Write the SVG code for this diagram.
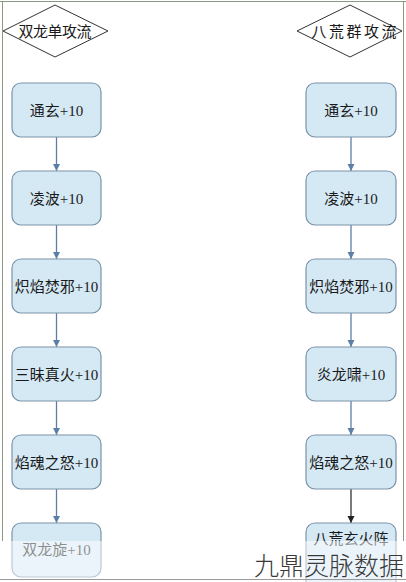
<svg xmlns="http://www.w3.org/2000/svg" width="406" height="582" viewBox="0 0 406 582">
<style>
.box{fill:#d5e9f5;stroke:#7b93a8;stroke-width:1.2}
.dia{fill:#ffffff;stroke:#333333;stroke-width:1}
.t{font-family:"Liberation Serif","Noto Sans CJK SC",serif;font-size:15px;fill:#1a1a1a;text-anchor:middle;dominant-baseline:central}
.c{stroke:#5b7fa6;stroke-width:1.3;fill:none}
.cd{stroke:#333333;stroke-width:1.3;fill:none}
</style>
<defs>
<marker id="ab" markerWidth="8" markerHeight="8" refX="7" refY="4" orient="auto" markerUnits="userSpaceOnUse"><path d="M0,0.5 L7,4 L0,7.5 Z" fill="#5b7fa6"/></marker>
<marker id="ad" markerWidth="8" markerHeight="8" refX="7" refY="4" orient="auto" markerUnits="userSpaceOnUse"><path d="M0,0.5 L7,4 L0,7.5 Z" fill="#222222"/></marker>
</defs>
<rect x="0" y="0" width="406" height="582" fill="#ffffff"/>
<g id="frame" fill="none" stroke="#8a9a80" stroke-width="1">
<line x1="2.5" y1="1" x2="2.5" y2="541"/>
<line x1="0" y1="1.5" x2="406" y2="1.5"/>
<line x1="403.5" y1="1" x2="403.5" y2="541"/>
</g>
<g id="connectors">
<line class="c" x1="56.5" y1="137" x2="56.5" y2="171" marker-end="url(#ab)"/>
<line class="c" x1="56.5" y1="225" x2="56.5" y2="259" marker-end="url(#ab)"/>
<line class="c" x1="56.5" y1="313" x2="56.5" y2="347" marker-end="url(#ab)"/>
<line class="c" x1="56.5" y1="401" x2="56.5" y2="435" marker-end="url(#ab)"/>
<line class="c" x1="56.5" y1="489" x2="56.5" y2="523" marker-end="url(#ab)"/>
<line class="c" x1="351" y1="137" x2="351" y2="171" marker-end="url(#ab)"/>
<line class="c" x1="351" y1="225" x2="351" y2="259" marker-end="url(#ab)"/>
<line class="c" x1="351" y1="313" x2="351" y2="347" marker-end="url(#ab)"/>
<line class="c" x1="351" y1="401" x2="351" y2="435" marker-end="url(#ab)"/>
<line class="cd" x1="351" y1="489" x2="351" y2="523" marker-end="url(#ad)"/>
</g>
<g id="L0"><polygon class="dia" points="55,5 108,31 55,57 3,31"/><text class="t" x="55" y="32" textLength="73">双龙单攻流</text></g>
<g id="L1"><rect class="box" x="12" y="83" width="89" height="54" rx="9"/><text class="t" x="56.5" y="111">通玄+10</text></g>
<g id="L2"><rect class="box" x="12" y="171" width="89" height="54" rx="9"/><text class="t" x="56.5" y="199">凌波+10</text></g>
<g id="L3"><rect class="box" x="12" y="259" width="89" height="54" rx="9"/><text class="t" x="56.5" y="287">炽焰焚邪+10</text></g>
<g id="L4"><rect class="box" x="12" y="347" width="89" height="54" rx="9"/><text class="t" x="56.5" y="375">三昧真火+10</text></g>
<g id="L5"><rect class="box" x="12" y="435" width="89" height="54" rx="9"/><text class="t" x="56.5" y="463">焰魂之怒+10</text></g>
<g id="L6"><rect class="box" x="12" y="523" width="89" height="54" rx="9"/><text class="t" x="56.5" y="550">双龙旋+10</text></g>
<g id="R0"><polygon class="dia" points="350,5 402,31 350,57 297,31"/><text class="t" x="354" y="32" textLength="85">八荒群攻流</text></g>
<g id="R1"><rect class="box" x="306" y="83" width="90" height="54" rx="9"/><text class="t" x="351" y="111">通玄+10</text></g>
<g id="R2"><rect class="box" x="306" y="171" width="90" height="54" rx="9"/><text class="t" x="351" y="199">凌波+10</text></g>
<g id="R3"><rect class="box" x="306" y="259" width="90" height="54" rx="9"/><text class="t" x="351" y="287">炽焰焚邪+10</text></g>
<g id="R4"><rect class="box" x="306" y="347" width="90" height="54" rx="9"/><text class="t" x="351" y="375">炎龙啸+10</text></g>
<g id="R5"><rect class="box" x="306" y="435" width="90" height="54" rx="9"/><text class="t" x="351" y="463">焰魂之怒+10</text></g>
<g id="R6"><rect class="box" x="306" y="523" width="90" height="70" rx="9"/><text class="t" x="351" y="539">八荒玄火阵</text></g>
<rect x="0" y="541" width="406" height="41" fill="#ffffff" opacity="0.5"/>
<line x1="0" y1="579.5" x2="406" y2="579.5" stroke="#999999" stroke-width="1"/>
<text x="404" y="575" font-family="'Noto Sans CJK SC',sans-serif" font-size="25" font-weight="300" fill="#3a3a3a" text-anchor="end">九鼎灵脉数据</text>
</svg>
